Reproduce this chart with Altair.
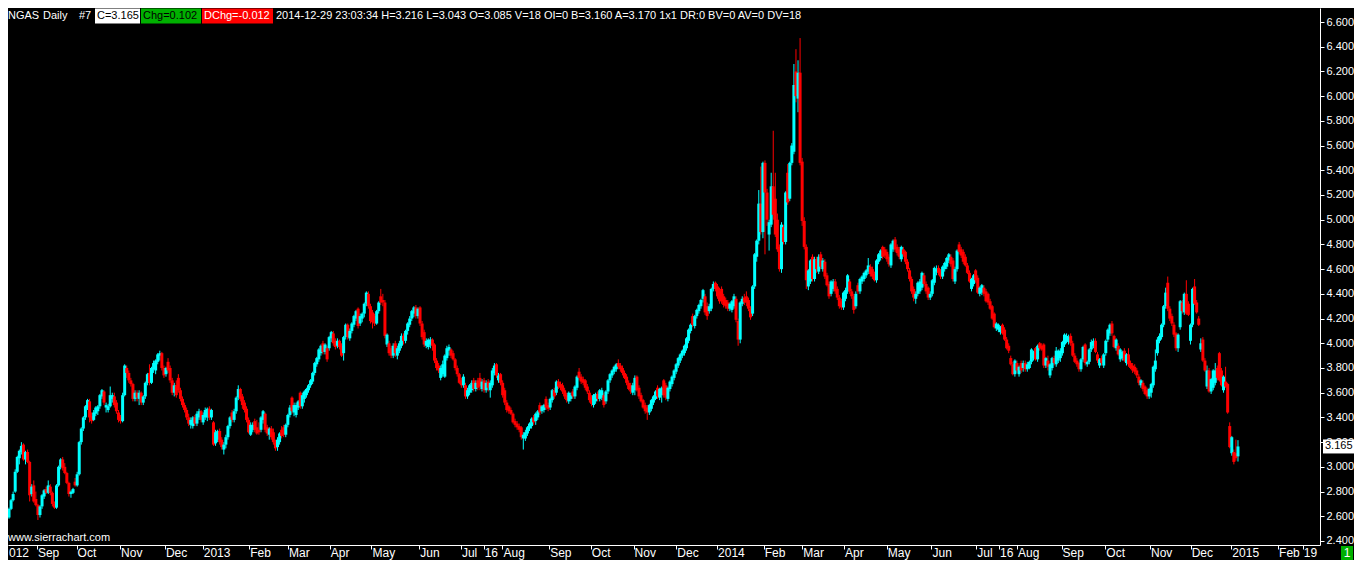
import altair as alt
import pandas as pd

# Daily OHLC bars (open, high, low, close)
aug12 = [(2.59,2.67,2.58,2.66),(2.66,2.74,2.65,2.73),(2.73,2.80,2.72,2.78),(2.80,2.98,2.79,2.96),(2.96,3.09,2.95,3.08),(3.07,3.14,3.02,3.13),(3.12,3.20,3.10,3.17),(3.18,3.19,3.05,3.06),(3.06,3.13,3.02,3.12),(3.12,3.14,3.03,3.04),(3.04,3.05,2.72,2.77),(2.78,2.86,2.76,2.84),(2.85,2.89,2.71,2.72),(2.74,2.80,2.68,2.69)]
sep12 = [(2.69,2.70,2.57,2.61),(2.61,2.69,2.59,2.68),(2.68,2.78,2.66,2.77),(2.76,2.82,2.74,2.81),(2.82,2.84,2.78,2.79),(2.79,2.89,2.78,2.85),(2.84,2.86,2.77,2.79),(2.79,2.80,2.68,2.70),(2.70,2.72,2.66,2.67),(2.67,2.86,2.66,2.85),(2.85,3.01,2.84,3.00),(3.00,3.07,2.98,3.06),(3.06,3.08,2.97,2.99),(3.00,3.03,2.94,2.95),(2.95,2.96,2.86,2.87),(2.87,2.88,2.76,2.78),(2.78,2.81,2.75,2.80),(2.79,2.83,2.78,2.82),(2.88,2.91,2.84,2.85)]
oct12 = [(2.85,2.96,2.84,2.94),(2.94,3.21,2.93,3.20),(3.20,3.32,3.18,3.31),(3.31,3.41,3.29,3.40),(3.40,3.50,3.38,3.49),(3.48,3.55,3.46,3.54),(3.53,3.55,3.36,3.40),(3.41,3.44,3.35,3.37),(3.38,3.46,3.37,3.44),(3.43,3.49,3.41,3.48),(3.45,3.50,3.42,3.49),(3.49,3.59,3.47,3.58),(3.57,3.63,3.55,3.62),(3.61,3.62,3.50,3.52),(3.48,3.52,3.44,3.50),(3.46,3.51,3.44,3.49),(3.49,3.65,3.48,3.58),(3.55,3.60,3.52,3.58),(3.57,3.60,3.48,3.50),(3.52,3.54,3.43,3.45),(3.44,3.46,3.36,3.38)]
nov12 = [(3.40,3.42,3.35,3.37),(3.37,3.60,3.36,3.58),(3.58,3.83,3.57,3.82),(3.80,3.82,3.72,3.76),(3.76,3.78,3.68,3.70),(3.70,3.72,3.65,3.67),(3.67,3.68,3.53,3.55),(3.55,3.62,3.53,3.60),(3.60,3.62,3.53,3.56),(3.55,3.62,3.50,3.60),(3.60,3.61,3.50,3.52),(3.52,3.58,3.50,3.57),(3.57,3.69,3.55,3.68),(3.68,3.76,3.66,3.75),(3.76,3.83,3.66,3.68),(3.68,3.81,3.67,3.80),(3.79,3.86,3.76,3.84),(3.78,3.87,3.75,3.86),(3.85,3.92,3.83,3.91),(3.90,3.94,3.86,3.92),(3.92,3.93,3.78,3.80)]
dec12 = [(3.80,3.82,3.72,3.74),(3.75,3.81,3.73,3.80),(3.85,3.88,3.76,3.78),(3.80,3.82,3.68,3.70),(3.70,3.72,3.58,3.60),(3.60,3.68,3.57,3.66),(3.66,3.70,3.56,3.58),(3.72,3.75,3.60,3.62),(3.62,3.64,3.53,3.55),(3.55,3.57,3.48,3.50),(3.50,3.52,3.44,3.46),(3.46,3.48,3.38,3.40),(3.40,3.43,3.33,3.35),(3.34,3.40,3.31,3.38),(3.33,3.41,3.31,3.40),(3.40,3.42,3.33,3.35),(3.35,3.45,3.33,3.43),(3.40,3.47,3.38,3.45),(3.45,3.46,3.36,3.38)]
jan13 = [(3.36,3.44,3.34,3.42),(3.40,3.48,3.38,3.46),(3.40,3.48,3.37,3.47),(3.47,3.49,3.38,3.40),(3.40,3.47,3.38,3.46),(3.36,3.37,3.17,3.18),(3.19,3.30,3.17,3.28),(3.22,3.30,3.20,3.29),(3.29,3.31,3.18,3.20),(3.22,3.24,3.14,3.16),(3.14,3.20,3.10,3.18),(3.18,3.26,3.15,3.24),(3.24,3.34,3.22,3.33),(3.33,3.41,3.31,3.40),(3.44,3.46,3.36,3.38),(3.38,3.47,3.36,3.45),(3.45,3.57,3.43,3.56),(3.56,3.66,3.54,3.63),(3.63,3.64,3.53,3.55),(3.57,3.59,3.47,3.50),(3.52,3.54,3.44,3.46)]
feb13 = [(3.47,3.49,3.36,3.38),(3.38,3.40,3.27,3.28),(3.26,3.36,3.25,3.34),(3.30,3.36,3.28,3.34),(3.37,3.39,3.28,3.30),(3.32,3.38,3.26,3.27),(3.30,3.36,3.26,3.28),(3.30,3.41,3.28,3.40),(3.38,3.46,3.35,3.45),(3.43,3.44,3.28,3.30),(3.32,3.34,3.25,3.27),(3.26,3.32,3.22,3.31),(3.31,3.33,3.22,3.24),(3.28,3.31,3.18,3.20),(3.20,3.22,3.13,3.15),(3.16,3.24,3.13,3.22),(3.20,3.28,3.18,3.27),(3.30,3.33,3.23,3.25),(3.32,3.34,3.24,3.26)]
mar13 = [(3.26,3.35,3.24,3.34),(3.34,3.43,3.32,3.42),(3.42,3.50,3.40,3.48),(3.56,3.57,3.43,3.45),(3.44,3.52,3.41,3.50),(3.42,3.52,3.40,3.50),(3.48,3.54,3.46,3.53),(3.60,3.61,3.47,3.49),(3.49,3.60,3.47,3.58),(3.55,3.62,3.52,3.61),(3.58,3.64,3.56,3.63),(3.62,3.67,3.60,3.66),(3.66,3.71,3.64,3.70),(3.69,3.77,3.67,3.76),(3.76,3.85,3.74,3.84),(3.83,3.89,3.81,3.88),(3.87,3.96,3.85,3.95),(3.92,3.99,3.90,3.98),(4.00,4.02,3.91,3.93),(3.93,4.00,3.91,3.99)]
apr13 = [(3.96,3.98,3.85,3.87),(3.96,4.06,3.94,4.05),(4.04,4.10,4.01,4.09),(4.08,4.10,3.98,4.00),(4.02,4.04,3.95,3.97),(3.98,4.04,3.96,4.02),(4.02,4.03,3.95,3.97),(3.98,4.00,3.89,3.90),(3.92,4.06,3.86,4.05),(4.05,4.16,4.03,4.15),(4.15,4.16,4.03,4.05),(4.04,4.12,4.02,4.10),(4.10,4.17,4.08,4.16),(4.15,4.23,4.13,4.22),(4.20,4.27,4.18,4.26),(4.28,4.29,4.12,4.14),(4.16,4.24,4.14,4.22),(4.20,4.25,4.17,4.24),(4.24,4.33,4.21,4.32),(4.32,4.42,4.30,4.41),(4.40,4.42,4.28,4.30),(4.30,4.32,4.16,4.18)]
may13 = [(4.25,4.27,4.12,4.17),(4.22,4.24,4.14,4.16),(4.16,4.27,4.15,4.26),(4.26,4.34,4.24,4.33),(4.38,4.44,4.31,4.33),(4.35,4.40,4.30,4.33),(4.33,4.35,4.04,4.06),(3.99,4.08,3.97,4.07),(4.00,4.02,3.90,3.92),(3.96,3.98,3.88,3.90),(3.90,4.00,3.88,3.98),(4.00,4.02,3.89,3.92),(3.90,3.98,3.87,3.96),(3.94,4.02,3.92,4.00),(3.98,4.08,3.96,4.06),(4.06,4.08,3.99,4.02),(4.02,4.11,4.00,4.10),(4.10,4.17,4.07,4.16),(4.15,4.22,4.13,4.20),(4.20,4.27,4.18,4.26),(4.24,4.30,4.21,4.29),(4.29,4.31,4.20,4.22)]
jun13 = [(4.22,4.29,4.20,4.28),(4.29,4.30,4.14,4.16),(4.16,4.18,4.03,4.05),(4.09,4.11,3.97,3.99),(3.98,4.04,3.96,4.02),(3.97,4.04,3.95,4.03),(3.99,4.05,3.96,4.03),(4.03,4.04,3.94,3.98),(3.99,4.00,3.84,3.86),(3.86,3.88,3.78,3.80),(3.82,3.84,3.76,3.78),(3.72,3.82,3.70,3.80),(3.75,3.86,3.73,3.83),(3.73,3.91,3.72,3.90),(3.88,3.98,3.86,3.96),(3.94,3.99,3.90,3.97),(3.95,3.96,3.88,3.90),(3.92,3.94,3.86,3.87),(3.87,3.88,3.78,3.80),(3.80,3.82,3.73,3.75)]
jul13 = [(3.75,3.76,3.67,3.68),(3.70,3.72,3.64,3.66),(3.66,3.75,3.64,3.73),(3.66,3.68,3.55,3.57),(3.57,3.64,3.55,3.62),(3.60,3.67,3.58,3.66),(3.62,3.70,3.60,3.68),(3.70,3.72,3.61,3.63),(3.63,3.70,3.61,3.68),(3.70,3.72,3.62,3.64),(3.72,3.76,3.62,3.65),(3.63,3.71,3.61,3.69),(3.70,3.72,3.60,3.62),(3.62,3.70,3.60,3.68),(3.69,3.71,3.61,3.64),(3.62,3.70,3.56,3.68),(3.66,3.80,3.64,3.78),(3.76,3.84,3.74,3.82),(3.83,3.84,3.72,3.74),(3.70,3.76,3.68,3.74),(3.75,3.76,3.66,3.68),(3.68,3.70,3.56,3.58)]
aug13 = [(3.62,3.64,3.50,3.52),(3.52,3.54,3.44,3.46),(3.49,3.50,3.43,3.45),(3.46,3.48,3.42,3.43),(3.43,3.44,3.35,3.36),(3.37,3.39,3.32,3.34),(3.35,3.37,3.30,3.32),(3.33,3.35,3.28,3.30),(3.32,3.33,3.22,3.24),(3.23,3.28,3.14,3.26),(3.23,3.30,3.21,3.28),(3.27,3.33,3.25,3.32),(3.31,3.36,3.29,3.35),(3.33,3.40,3.31,3.39),(3.40,3.42,3.34,3.36),(3.37,3.44,3.34,3.43),(3.40,3.46,3.38,3.45),(3.50,3.52,3.42,3.44),(3.45,3.50,3.43,3.49),(3.46,3.51,3.44,3.50),(3.55,3.57,3.46,3.48),(3.50,3.52,3.45,3.47)]
sep13 = [(3.48,3.56,3.46,3.55),(3.54,3.63,3.52,3.62),(3.62,3.64,3.55,3.57),(3.60,3.70,3.58,3.69),(3.69,3.71,3.63,3.65),(3.67,3.69,3.62,3.64),(3.66,3.68,3.59,3.61),(3.62,3.64,3.55,3.57),(3.58,3.60,3.52,3.54),(3.53,3.61,3.51,3.60),(3.55,3.60,3.53,3.58),(3.61,3.63,3.55,3.57),(3.57,3.66,3.55,3.65),(3.64,3.74,3.62,3.73),(3.77,3.80,3.70,3.72),(3.73,3.75,3.67,3.69),(3.71,3.73,3.66,3.68),(3.70,3.71,3.62,3.64),(3.65,3.67,3.59,3.61),(3.60,3.62,3.52,3.54)]
oct13 = [(3.56,3.58,3.49,3.51),(3.50,3.59,3.48,3.58),(3.53,3.60,3.51,3.59),(3.59,3.61,3.53,3.55),(3.55,3.63,3.53,3.62),(3.56,3.64,3.54,3.62),(3.58,3.60,3.48,3.50),(3.53,3.62,3.51,3.61),(3.61,3.71,3.59,3.70),(3.70,3.76,3.68,3.75),(3.74,3.79,3.72,3.78),(3.77,3.82,3.75,3.81),(3.79,3.84,3.77,3.83),(3.84,3.87,3.79,3.81),(3.82,3.84,3.77,3.79),(3.80,3.82,3.74,3.76),(3.76,3.78,3.71,3.72),(3.73,3.75,3.66,3.68),(3.68,3.70,3.62,3.63),(3.66,3.68,3.59,3.61),(3.60,3.68,3.58,3.66),(3.62,3.74,3.58,3.72),(3.73,3.74,3.61,3.62)]
nov13 = [(3.64,3.66,3.55,3.57),(3.58,3.60,3.52,3.53),(3.54,3.55,3.47,3.48),(3.50,3.52,3.43,3.45),(3.48,3.50,3.38,3.44),(3.44,3.51,3.42,3.50),(3.47,3.55,3.45,3.54),(3.52,3.58,3.50,3.57),(3.55,3.62,3.54,3.61),(3.64,3.66,3.55,3.57),(3.56,3.64,3.54,3.63),(3.58,3.65,3.52,3.64),(3.70,3.71,3.56,3.58),(3.66,3.68,3.54,3.56),(3.55,3.65,3.53,3.64),(3.63,3.70,3.61,3.69),(3.67,3.74,3.65,3.73),(3.72,3.79,3.70,3.78),(3.77,3.84,3.75,3.83),(3.82,3.89,3.80,3.88)]
dec13 = [(3.86,3.92,3.84,3.91),(3.90,3.95,3.88,3.94),(3.92,3.99,3.90,3.98),(3.96,4.05,3.94,4.04),(4.02,4.12,4.00,4.11),(4.10,4.16,4.08,4.15),(4.22,4.24,4.13,4.15),(4.14,4.23,4.12,4.22),(4.22,4.28,4.20,4.27),(4.26,4.32,4.24,4.31),(4.30,4.36,4.28,4.35),(4.36,4.44,4.33,4.43),(4.38,4.40,4.23,4.25),(4.30,4.33,4.19,4.22),(4.26,4.32,4.24,4.30),(4.28,4.45,4.26,4.44),(4.44,4.50,4.42,4.48),(4.49,4.50,4.42,4.44),(4.46,4.48,4.36,4.38),(4.42,4.45,4.32,4.34)]
jan14 = [(4.44,4.46,4.32,4.34),(4.38,4.40,4.29,4.31),(4.35,4.37,4.28,4.30),(4.33,4.35,4.26,4.28),(4.28,4.33,4.26,4.32),(4.27,4.35,4.25,4.34),(4.30,4.40,4.28,4.38),(4.36,4.38,4.17,4.19),(4.18,4.20,3.98,4.03),(4.03,4.34,4.00,4.33),(4.32,4.38,4.30,4.36),(4.37,4.40,4.31,4.33),(4.38,4.42,4.30,4.33),(4.35,4.37,4.26,4.28),(4.28,4.30,4.19,4.21),(4.24,4.47,4.22,4.46),(4.46,4.73,4.44,4.72),(4.70,4.84,4.66,4.83),(4.83,5.24,4.80,5.13),(5.13,5.43,4.88,4.90),(4.90,5.47,4.85,5.46)]
feb14 = [(5.46,5.48,4.72,5.22),(5.22,5.25,4.95,5.00),(4.88,5.00,4.75,4.98),(4.96,5.38,4.94,5.27),(5.27,5.72,5.00,5.04),(5.17,5.38,4.86,4.88),(5.00,5.05,4.74,4.76),(4.78,4.80,4.58,4.60),(4.60,4.98,4.57,4.96),(4.94,4.96,4.80,4.82),(4.82,5.23,4.80,5.22),(5.38,5.45,5.12,5.14),(5.17,5.47,5.15,5.46),(5.46,5.62,5.44,5.60),(5.55,6.26,5.53,6.09),(6.20,6.38,5.95,6.00),(5.98,6.29,5.87,6.19),(6.19,6.47,5.44,5.46),(5.47,5.50,4.95,4.99)]
mar14 = [(4.99,5.02,4.76,4.78),(4.78,4.80,4.44,4.51),(4.46,4.60,4.43,4.59),(4.50,4.68,4.48,4.67),(4.70,4.72,4.50,4.52),(4.52,4.70,4.50,4.68),(4.68,4.70,4.57,4.60),(4.58,4.72,4.56,4.70),(4.72,4.74,4.60,4.62),(4.60,4.69,4.58,4.67),(4.66,4.68,4.52,4.54),(4.55,4.57,4.46,4.47),(4.48,4.50,4.36,4.38),(4.40,4.51,4.38,4.50),(4.44,4.52,4.42,4.50),(4.50,4.52,4.40,4.42),(4.44,4.46,4.35,4.37),(4.37,4.39,4.28,4.30),(4.34,4.36,4.27,4.29),(4.29,4.42,4.27,4.41),(4.36,4.45,4.34,4.43)]
apr14 = [(4.42,4.56,4.40,4.55),(4.50,4.52,4.40,4.42),(4.42,4.44,4.36,4.38),(4.38,4.40,4.24,4.27),(4.30,4.42,4.28,4.40),(4.47,4.49,4.40,4.42),(4.42,4.53,4.40,4.52),(4.50,4.55,4.48,4.54),(4.52,4.58,4.50,4.57),(4.55,4.60,4.53,4.59),(4.58,4.69,4.56,4.63),(4.62,4.64,4.54,4.56),(4.60,4.62,4.52,4.54),(4.56,4.58,4.50,4.51),(4.51,4.68,4.49,4.67),(4.66,4.73,4.64,4.72),(4.69,4.76,4.67,4.75),(4.78,4.79,4.68,4.70),(4.76,4.78,4.69,4.71),(4.74,4.76,4.66,4.68),(4.70,4.72,4.62,4.64)]
may14 = [(4.63,4.81,4.61,4.80),(4.76,4.84,4.74,4.83),(4.84,4.86,4.74,4.76),(4.78,4.80,4.71,4.73),(4.76,4.78,4.68,4.70),(4.68,4.79,4.66,4.78),(4.76,4.78,4.70,4.72),(4.74,4.75,4.64,4.66),(4.66,4.68,4.58,4.60),(4.59,4.61,4.50,4.52),(4.52,4.54,4.40,4.42),(4.44,4.46,4.34,4.37),(4.36,4.42,4.32,4.40),(4.40,4.50,4.38,4.49),(4.42,4.52,4.40,4.50),(4.45,4.58,4.43,4.57),(4.55,4.57,4.46,4.48),(4.48,4.50,4.40,4.42),(4.45,4.46,4.35,4.37),(4.37,4.42,4.35,4.40),(4.40,4.52,4.38,4.51)]
jun14 = [(4.49,4.62,4.47,4.61),(4.58,4.63,4.55,4.60),(4.61,4.63,4.55,4.57),(4.58,4.60,4.52,4.54),(4.54,4.63,4.52,4.62),(4.60,4.66,4.58,4.65),(4.62,4.70,4.60,4.69),(4.67,4.73,4.65,4.72),(4.70,4.72,4.62,4.64),(4.67,4.69,4.50,4.52),(4.50,4.62,4.48,4.60),(4.60,4.76,4.58,4.75),(4.80,4.82,4.72,4.74),(4.76,4.78,4.69,4.71),(4.74,4.76,4.64,4.66),(4.70,4.72,4.62,4.63),(4.63,4.65,4.56,4.57),(4.57,4.59,4.49,4.50),(4.44,4.53,4.42,4.52),(4.48,4.56,4.46,4.55),(4.59,4.60,4.49,4.51)]
jul14 = [(4.53,4.55,4.40,4.41),(4.40,4.46,4.38,4.45),(4.41,4.48,4.39,4.47),(4.45,4.47,4.38,4.40),(4.42,4.44,4.33,4.34),(4.40,4.41,4.31,4.33),(4.34,4.36,4.27,4.28),(4.30,4.31,4.19,4.20),(4.24,4.25,4.12,4.13),(4.12,4.17,4.10,4.16),(4.11,4.16,4.09,4.15),(4.09,4.14,4.07,4.13),(4.15,4.16,4.07,4.08),(4.11,4.13,4.02,4.03),(4.03,4.05,3.95,3.96),(3.98,4.00,3.92,3.94),(3.88,3.90,3.82,3.83),(3.83,3.85,3.74,3.75),(3.75,3.87,3.73,3.86),(3.84,3.86,3.76,3.78),(3.75,3.82,3.73,3.81),(3.84,3.86,3.76,3.78)]
aug14 = [(3.80,3.86,3.77,3.84),(3.84,3.86,3.77,3.79),(3.79,3.85,3.77,3.83),(3.80,3.86,3.79,3.85),(3.85,3.96,3.83,3.95),(3.88,3.94,3.86,3.93),(3.96,3.97,3.86,3.87),(3.87,3.99,3.85,3.98),(4.00,4.01,3.94,3.96),(3.98,4.00,3.94,3.95),(3.99,4.00,3.80,3.82),(3.82,3.89,3.80,3.88),(3.86,3.90,3.78,3.81),(3.74,3.84,3.72,3.83),(3.80,3.89,3.78,3.88),(3.88,3.90,3.82,3.84),(3.83,3.97,3.81,3.94),(3.86,3.95,3.84,3.94),(3.88,3.96,3.85,3.94),(3.92,4.02,3.90,4.01),(3.99,4.08,3.97,4.07)]
sep14 = [(4.02,4.08,4.00,4.06),(4.01,4.07,3.99,4.05),(4.06,4.08,3.98,4.00),(4.00,4.02,3.89,3.90),(3.90,3.92,3.84,3.85),(3.86,3.88,3.81,3.83),(3.84,3.85,3.77,3.79),(3.79,3.88,3.77,3.87),(3.87,3.98,3.85,3.97),(3.99,4.00,3.82,3.84),(3.83,3.86,3.81,3.85),(3.85,3.96,3.83,3.95),(3.95,4.03,3.93,4.01),(3.98,4.04,3.96,4.02),(4.02,4.04,3.92,3.93),(3.91,3.93,3.84,3.86),(3.82,3.88,3.80,3.87),(3.88,3.90,3.82,3.84),(3.82,3.92,3.80,3.91),(3.92,4.03,3.90,4.02),(4.03,4.12,4.01,4.11)]
oct14 = [(4.08,4.16,4.06,4.15),(4.16,4.18,4.06,4.08),(4.06,4.07,3.96,3.97),(3.96,4.04,3.94,4.03),(3.98,4.00,3.90,3.91),(3.87,3.96,3.85,3.95),(3.88,3.94,3.86,3.93),(3.94,3.96,3.85,3.86),(3.84,3.92,3.82,3.91),(3.91,3.96,3.81,3.83),(3.84,3.86,3.79,3.80),(3.82,3.84,3.76,3.78),(3.81,3.83,3.75,3.77),(3.78,3.80,3.72,3.74),(3.73,3.75,3.66,3.68),(3.66,3.71,3.64,3.70),(3.68,3.70,3.61,3.63),(3.65,3.66,3.58,3.59),(3.62,3.64,3.55,3.57),(3.57,3.64,3.55,3.63),(3.60,3.68,3.56,3.67),(3.66,3.82,3.64,3.81),(3.79,3.95,3.77,3.86)]
nov14 = [(3.92,4.05,3.90,4.03),(4.02,4.08,4.00,4.06),(4.05,4.16,4.03,4.15),(4.15,4.31,4.13,4.30),(4.30,4.45,4.28,4.41),(4.49,4.54,4.26,4.28),(4.28,4.30,4.18,4.20),(4.22,4.24,4.14,4.16),(4.15,4.17,4.05,4.07),(4.08,4.09,3.94,3.96),(3.96,4.08,3.93,4.07),(4.13,4.35,4.11,4.34),(4.33,4.35,4.24,4.26),(4.25,4.41,4.23,4.40),(4.40,4.51,4.23,4.24),(4.32,4.34,4.22,4.23),(4.02,4.16,3.99,4.15),(4.15,4.45,4.13,4.44),(4.46,4.52,4.31,4.32)]
dec14 = [(4.33,4.35,4.24,4.25),(4.20,4.22,4.14,4.15),(3.95,4.04,3.93,4.00),(4.03,4.05,3.85,3.86),(3.86,3.88,3.77,3.78),(3.65,3.82,3.63,3.78),(3.78,3.80,3.60,3.61),(3.61,3.72,3.59,3.71),(3.64,3.79,3.62,3.78),(3.68,3.84,3.66,3.78),(3.80,3.82,3.70,3.72),(3.92,3.93,3.69,3.70),(3.78,3.80,3.65,3.66),(3.62,3.74,3.60,3.73),(3.69,3.81,3.64,3.65),(3.67,3.68,3.43,3.44),(3.33,3.36,3.15,3.16),(3.11,3.25,3.09,3.24),(3.12,3.14,3.02,3.04),(3.11,3.22,3.05,3.07),(3.085,3.216,3.043,3.165)]

months = [aug12, sep12, oct12, nov12, dec12, jan13, feb13, mar13, apr13, may13, jun13,
          jul13, aug13, sep13, oct13, nov13, dec13, jan14, feb14, mar14, apr14, may14,
          jun14, jul14, aug14, sep14, oct14, nov14, dec14]

# Time-scale labels (text and bar-index position) and price-axis ticks
x_labels = ["012", "Sep", "Oct", "Nov", "Dec", "2013", "Feb", "Mar", "Apr", "May", "Jun", "Jul", "16", "Aug",
            "Sep", "Oct", "Nov", "Dec", "2014", "Feb", "Mar", "Apr", "May", "Jun", "Jul", "16", "Aug",
            "Sep", "Oct", "Nov", "Dec", "2015", "Feb", "19"]
x_label_pos = [-0.5, 13.5, 32.7, 53.8, 75.5, 93.8, 116.3, 135.1, 155.3, 175.5, 198.6, 218.8, 229.8, 238.9,
               261.5, 281.7, 302.4, 323.1, 342.8, 365.4, 384.1, 404.3, 425.0, 446.6, 468.3, 479.3, 488.0,
               509.6, 530.8, 552.4, 572.1, 591.8, 614.4, 626.4]
y_ticks = [2.4, 2.6, 2.8, 3.0, 3.2, 3.4, 3.6, 3.8, 4.0, 4.2, 4.4, 4.6, 4.8, 5.0, 5.2, 5.4, 5.6, 5.8, 6.0, 6.2, 6.4, 6.6]

last_close = dec14[-1][3]

rows = [bar for m in months for bar in m]
df = pd.DataFrame(rows, columns=["open", "high", "low", "close"])
df["i"] = range(len(df))
df["dir"] = ["up" if c >= o else "down" for o, c in zip(df["open"], df["close"])]

lab = pd.DataFrame({"pos": x_label_pos, "text": x_labels})

FONT = "Liberation Sans"
W, H = 1312, 537
xscale = alt.Scale(domain=[-0.4842, 634.71], nice=False, zero=False)
yscale = alt.Scale(domain=[2.3676, 6.7133], nice=False, zero=False)
color = alt.Color("dir:N", scale=alt.Scale(domain=["up", "down"], range=["#00ffff", "#ff0000"]), legend=None)

xaxis = alt.Axis(values=x_label_pos, labels=False, ticks=True, tickColor="white", tickSize=4,
                 domainColor="white", domainWidth=1, grid=False, title=None)
yaxis = alt.Axis(orient="right", values=y_ticks, format=".3f", labelColor="white", tickColor="white",
                 tickSize=4, domainColor="white", grid=False, title=None, labelFont=FONT,
                 labelFontSize=11, labelPadding=2, labelOverlap=False, labelBound=False,
                 labelFlush=False, zindex=0)


def X(field):
    return alt.X(field, type="quantitative", scale=xscale, axis=xaxis)


def Y(field):
    return alt.Y(field, type="quantitative", scale=yscale, axis=yaxis)


base = alt.Chart(df)
wicks = base.mark_rule(strokeWidth=1).encode(x=X("i"), y=Y("low"), y2="high:Q", color=color)
bodies = base.mark_rule(strokeWidth=3).encode(x=X("i"), y=Y("open"), y2="close:Q", color=color)

# time-scale labels under the plot
lab_text = alt.Chart(lab).mark_text(align="left", baseline="middle", fontSize=12, font=FONT, dx=1).encode(
    x=X("pos"), y=alt.value(545), text="text:N", color=alt.value("white"))

# last price marker on the price scale
lp = pd.DataFrame({"price": [last_close], "label": [f"{last_close:.3f}"]})
lp_box = alt.Chart(lp).mark_rule(strokeWidth=14, color="white").encode(
    y=Y("price"), x=alt.value(1315), x2=alt.value(1346))
lp_text = alt.Chart(lp).mark_text(align="left", baseline="middle", fontSize=11, font=FONT, color="black").encode(
    y=Y("price"), x=alt.value(1317), text="label:N")

# header line
hdr_box = pd.DataFrame({"x0": [87, 133, 194], "x1": [132, 193, 265], "c": ["#ffffff", "#00b000", "#ff0000"]})
hdr_txt = pd.DataFrame({
    "x": [0, 35, 71, 89, 135, 196, 268],
    "t": ["NGAS", "Daily", "#7", "C=3.165", "Chg=0.102", "DChg=-0.012",
          "2014-12-29 23:03:34 H=3.216 L=3.043 O=3.085 V=18 OI=0 B=3.160 A=3.170 1x1 DR:0 BV=0 AV=0 DV=18"],
    "c": ["white", "white", "white", "black", "black", "white", "white"],
})
boxes = alt.Chart(hdr_box).mark_rule(strokeWidth=15).encode(
    x=alt.X("x0:Q", scale=None, axis=None), x2="x1:Q", y=alt.value(8), color=alt.Color("c:N", scale=None))
texts = alt.Chart(hdr_txt).mark_text(align="left", baseline="middle", fontSize=11, font=FONT).encode(
    x=alt.X("x:Q", scale=None, axis=None), y=alt.value(8), text="t:N", color=alt.Color("c:N", scale=None))

site = alt.Chart(pd.DataFrame({"t": ["www.sierrachart.com"]})).mark_text(
    align="left", baseline="middle", fontSize=11, font=FONT, color="white").encode(
    x=alt.value(0), y=alt.value(530), text="t:N")

one_box = alt.Chart(pd.DataFrame({"t": ["1"]})).mark_rule(strokeWidth=12, color="#00b000").encode(
    x=alt.value(1339), y=alt.value(538), y2=alt.value(552))
one_txt = alt.Chart(pd.DataFrame({"t": ["1"]})).mark_text(
    align="center", baseline="middle", fontSize=12, font=FONT, color="white").encode(
    x=alt.value(1339), y=alt.value(545), text="t:N")

main = alt.layer(wicks, bodies, lab_text, lp_box, lp_text)
deco = alt.layer(boxes, texts, site, one_box, one_txt)

chart = alt.layer(main, deco).properties(
    width=W, height=H,
    autosize=alt.AutoSizeParams(type="none"),
    padding={"left": 0, "top": 0, "right": 34, "bottom": 15},
    background="black",
).resolve_scale(color="independent").configure_view(stroke=None, fill="black").configure_axis(labelOverlap=False)

chart.save("out.html", embed_options={"renderer": "svg", "actions": False})
